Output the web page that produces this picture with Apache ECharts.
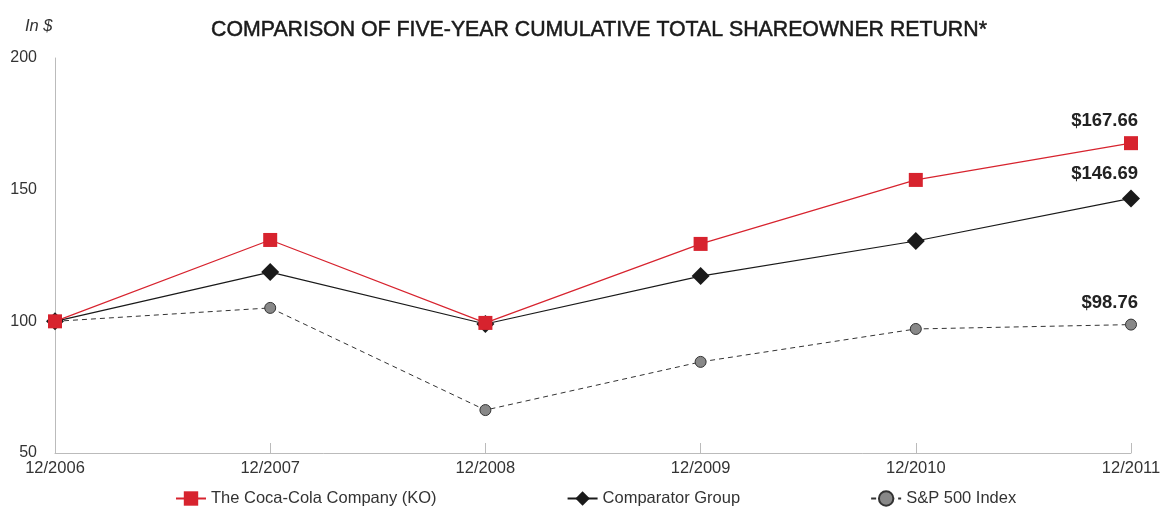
<!DOCTYPE html>
<html>
<head>
<meta charset="utf-8">
<script src="https://cdn.jsdelivr.net/npm/echarts@6/dist/echarts.min.js"></script>
<style>
  html, body { margin: 0; padding: 0; background: #fff; }
  #main { width: 1161px; height: 507px; }
</style>
</head>
<body>
<div id="main"></div>
<script>
const years = ["12/2006", "12/2007", "12/2008", "12/2009", "12/2010", "12/2011"];
const koValues = [100, 130.9, 99.4, 129.4, 153.7, 167.66];
const compValues = [100, 118.7, 99, 117.2, 130.5, 146.69];
const spValues = [100, 105.1, 66.3, 84.6, 97.1, 98.76];
const endLabels = ["$167.66", "$146.69", "$98.76"];

const font = "Liberation Sans, Arial, sans-serif";

// put the end value label on the last point only
const withEndLabel = (values, text) =>
  values.map((v, i) =>
    i === values.length - 1
      ? {
          value: v,
          label: {
            show: true,
            position: "top",
            align: "right",
            offset: [7, -1],
            formatter: text,
            fontSize: 18.5,
            fontWeight: "bold",
            color: "#222",
            fontFamily: font,
          },
        }
      : v
  );

const chart = echarts.init(document.getElementById("main"));
chart.setOption({
  animation: false,
  title: {
    text: "COMPARISON OF FIVE-YEAR CUMULATIVE TOTAL SHAREOWNER RETURN*",
    left: 594,
    textAlign: "center",
    top: 15,
    textStyle: {
      fontSize: 21.3,
      fontWeight: "normal",
      color: "#1a1a1a",
      textBorderColor: "#1a1a1a",
      textBorderWidth: 0.5,
      fontFamily: font,
    },
  },
  graphic: [
    {
      type: "text",
      left: 25,
      top: 18,
      style: { text: "In $", fontSize: 16.5, fontStyle: "italic", fill: "#333", fontFamily: font },
    },
  ],
  grid: { left: 55, right: 30, top: 58, bottom: 54, outerBoundsMode: "none" },
  legend: {
    top: 485,
    left: 170,
    itemGap: 130,
    itemWidth: 30,
    itemHeight: 18,
    textStyle: { fontSize: 16.5, color: "#333", fontFamily: font },
    data: ["The Coca-Cola Company (KO)", "Comparator Group", "S&P 500 Index"],
  },
  xAxis: {
    type: "category",
    data: years,
    boundaryGap: false,
    axisLine: { lineStyle: { color: "#bbb", width: 1 } },
    axisTick: { inside: true, length: 10, lineStyle: { color: "#bbb" } },
    axisLabel: { fontSize: 16.5, color: "#333", margin: 7, fontFamily: font },
    splitLine: { show: false },
  },
  yAxis: {
    type: "value",
    min: 50,
    max: 200,
    interval: 50,
    axisLine: { show: true, lineStyle: { color: "#bbb", width: 1 } },
    axisTick: { show: false },
    axisLabel: { fontSize: 16, color: "#333", margin: 18, fontFamily: font },
    splitLine: { show: false },
  },
  series: [
    {
      name: "S&P 500 Index",
      type: "line",
      z: 2,
      data: withEndLabel(spValues, endLabels[2]),
      symbol: "circle",
      symbolSize: 11,
      lineStyle: { color: "#333", width: 1, type: [5, 4] },
      itemStyle: { color: "#888", borderColor: "#333", borderWidth: 1 },
    },
    {
      name: "Comparator Group",
      type: "line",
      z: 3,
      data: withEndLabel(compValues, endLabels[1]),
      symbol: "diamond",
      symbolSize: 18,
      lineStyle: { color: "#1a1a1a", width: 1.2 },
      itemStyle: { color: "#1a1a1a" },
    },
    {
      name: "The Coca-Cola Company (KO)",
      type: "line",
      z: 4,
      data: withEndLabel(koValues, endLabels[0]),
      symbol: "rect",
      symbolSize: 14,
      lineStyle: { color: "#d7232e", width: 1.2 },
      itemStyle: { color: "#d7232e" },
    },
  ],
});
</script>
</body>
</html>
